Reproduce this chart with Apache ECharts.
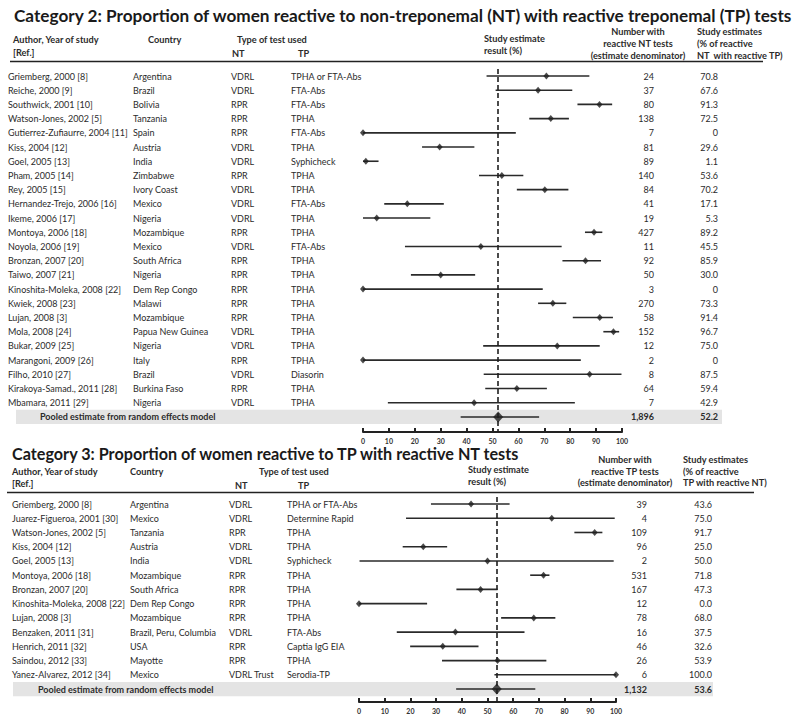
<!DOCTYPE html>
<html><head><meta charset="utf-8">
<script src="https://cdn.jsdelivr.net/npm/echarts@6/dist/echarts.min.js"></script>
<style>html,body{margin:0;padding:0;background:#fff}#c{width:800px;height:720px}</style>
</head><body><div id="c"></div>
<script>
// ---------- Category 2 data ----------
const c2Authors = ['Griemberg, 2000 [8]','Reiche, 2000 [9]','Southwick, 2001 [10]','Watson-Jones, 2002 [5]','Gutierrez-Zufiaurre, 2004 [11]','Kiss, 2004 [12]','Goel, 2005 [13]','Pham, 2005 [14]','Rey, 2005 [15]','Hernandez-Trejo, 2006 [16]','Ikeme, 2006 [17]','Montoya, 2006 [18]','Noyola, 2006 [19]','Bronzan, 2007 [20]','Taiwo, 2007 [21]','Kinoshita-Moleka, 2008 [22]','Kwiek, 2008 [23]','Lujan, 2008 [3]','Mola, 2008 [24]','Bukar, 2009 [25]','Marangoni, 2009 [26]','Filho, 2010 [27]','Kirakoya-Samad., 2011 [28]','Mbamara, 2011 [29]'];
const c2Countries = ['Argentina','Brazil','Bolivia','Tanzania','Spain','Austria','India','Zimbabwe','Ivory Coast','Mexico','Nigeria','Mozambique','Mexico','South Africa','Nigeria','Dem Rep Congo','Malawi','Mozambique','Papua New Guinea','Nigeria','Italy','Brazil','Burkina Faso','Nigeria'];
const c2NT = ['VDRL','VDRL','RPR','RPR','RPR','VDRL','VDRL','RPR','VDRL','VDRL','VDRL','RPR','VDRL','RPR','RPR','RPR','RPR','RPR','VDRL','VDRL','RPR','VDRL','RPR','VDRL'];
const c2TP = ['TPHA or FTA-Abs','FTA-Abs','FTA-Abs','TPHA','FTA-Abs','TPHA','Syphicheck','TPHA','TPHA','FTA-Abs','TPHA','TPHA','FTA-Abs','TPHA','TPHA','TPHA','TPHA','TPHA','TPHA','TPHA','TPHA','Diasorin','TPHA','TPHA'];
const c2N = [24,37,80,138,7,81,89,140,84,41,19,427,11,92,50,3,270,58,152,12,2,8,64,7];
const c2Est = [70.8,67.6,91.3,72.5,0,29.6,1.1,53.6,70.2,17.1,5.3,89.2,45.5,85.9,30.0,0,73.3,91.4,96.7,75.0,0,87.5,59.4,42.9];
const c2Lo = [47.7,51.2,82.8,64.2,0,22.8,0,44.8,59.4,8.2,0,85.7,16.2,77.0,18.5,0,67.6,81.0,92.8,46.4,0,46.6,47.2,9.6];
const c2Hi = [87.4,80.8,96.2,79.5,59.0,43.0,6.0,61.9,79.3,31.2,26.0,92.4,76.7,91.9,43.3,69.4,78.5,96.5,98.9,91.4,84.1,99.8,71.0,81.8];
const c2PooledN = 1896, c2PooledEst = 52.2, c2PooledLo = 37.7, c2PooledHi = 68.0;

// ---------- Category 3 data ----------
const c3Authors = ['Griemberg, 2000 [8]','Juarez-Figueroa, 2001 [30]','Watson-Jones, 2002 [5]','Kiss, 2004 [12]','Goel, 2005 [13]','Montoya, 2006 [18]','Bronzan, 2007 [20]','Kinoshita-Moleka, 2008 [22]','Lujan, 2008 [3]','Benzaken, 2011 [31]','Henrich, 2011 [32]','Saindou, 2012 [33]','Yanez-Alvarez, 2012 [34]'];
const c3Countries = ['Argentina','Mexico','Tanzania','Austria','India','Mozambique','South Africa','Dem Rep Congo','Mozambique','Brazil, Peru, Columbia','USA','Mayotte','Mexico'];
const c3NT = ['VDRL','VDRL','RPR','VDRL','VDRL','RPR','RPR','RPR','RPR','VDRL','RPR','RPR','VDRL Trust'];
const c3TP = ['TPHA or FTA-Abs','Determine Rapid','TPHA','TPHA','Syphicheck','TPHA','TPHA','TPHA','TPHA','FTA-Abs','Captia IgG EIA','TPHA','Serodia-TP'];
const c3N = [39,4,109,96,2,531,167,12,78,16,46,26,6];
const c3Est = [43.6,75.0,91.7,25.0,50.0,71.8,47.3,0.0,68.0,37.5,32.6,53.9,100.0];
const c3Lo = [28.0,18.3,83.8,17.0,0.2,66.6,37.9,0,55.3,14.7,19.9,32.3,52.7];
const c3Hi = [58.6,99.5,94.7,34.3,99.1,74.1,53.9,26.5,76.4,64.4,46.5,72.9,100];
const c3PooledN = 1132, c3PooledEst = 53.6, c3PooledLo = 37.8, c3PooledHi = 68.6;

const xTicks = [0,10,20,30,40,50,60,70,80,90,100];

// ---------- styling / layout ----------
const FONT = 'Lato';
const TXT = '#2b2b2b';
const ROW_FS = 9;
const HEAD_FS = 9.2;

const panels = [
  {
    authors:c2Authors, countries:c2Countries, nt:c2NT, tp:c2TP, n:c2N, est:c2Est, lo:c2Lo, hi:c2Hi,
    pN:c2PooledN, pEst:c2PooledEst, pLo:c2PooledLo, pHi:c2PooledHi,
    fmt: v => v === 0 ? '0' : v.toFixed(1),
    grid:{left:363, width:259, top:68.9, height:363.1}, ymax:25.06,
    cols:{author:8, country:133, nt:231, tp:291, n:654, est:718, pooledText:40},
    band:{x0:16, x1:722}
  },
  {
    authors:c3Authors, countries:c3Countries, nt:c3NT, tp:c3TP, n:c3N, est:c3Est, lo:c3Lo, hi:c3Hi,
    pN:c3PooledN, pEst:c3PooledEst, pLo:c3PooledLo, pHi:c3PooledHi,
    fmt: v => v.toFixed(1),
    grid:{left:359, width:257, top:496.9, height:205.1}, ymax:13.91,
    cols:{author:12, country:130, nt:229, tp:287, n:647, est:712, pooledText:38},
    band:{x0:13, x1:713}
  }
];

function txt(text, x, y, o) {
  o = o || {};
  return {
    type:'text', x:x, y:y, silent:true,
    style:{
      text:text, fill:o.fill || TXT,
      fontSize:o.fs || HEAD_FS, fontWeight:o.fw || 'normal', fontFamily:FONT,
      align:o.align || 'left', textAlign:o.align || 'left',
      verticalAlign:'middle', textVerticalAlign:'middle'
    }
  };
}

const grids = [], xAxes = [], yAxes = [], series = [];
panels.forEach((p, gi) => {
  grids.push(Object.assign({containLabel:false}, p.grid));
  xAxes.push({
    type:'value', gridIndex:gi, min:0, max:100, interval:10, position:'bottom',
    axisLine:{show:true, onZero:false, lineStyle:{color:'#222', width:2}},
    axisTick:{show:true, inside:true, length:4, lineStyle:{color:'#222', width:2}},
    axisLabel:{fontSize:7, fontWeight:'bold', color:'#333', fontFamily:FONT, margin:5},
    splitLine:{show:false}
  });
  yAxes.push({type:'value', gridIndex:gi, inverse:true, min:-0.5, max:p.ymax, show:false});

  const nRows = p.authors.length;
  const ciData = p.lo.map((lo, i) => [lo, p.hi[i], i]);
  ciData.push([p.pLo, p.pHi, nRows]);

  // pooled grey band
  series.push({
    type:'custom', xAxisIndex:gi, yAxisIndex:gi, z:1, silent:true, clip:false,
    data:[[p.pEst, nRows]],
    encode:{x:0, y:1},
    renderItem:(params, api) => {
      const y = api.coord([0, api.value(1)])[1];
      const h = api.size([0, 1])[1];
      return {type:'rect', shape:{x:p.band.x0, y:y - h/2, width:p.band.x1 - p.band.x0, height:h},
        style:{fill:'#e4e4e4'}};
    }
  });

  // confidence interval lines
  series.push({
    type:'custom', xAxisIndex:gi, yAxisIndex:gi, z:3, silent:true, clip:false,
    data:ciData, encode:{x:[0,1], y:2},
    renderItem:(params, api) => {
      const a = api.coord([api.value(0), api.value(2)]);
      const b = api.coord([api.value(1), api.value(2)]);
      return {type:'line', shape:{x1:a[0], y1:a[1], x2:b[0], y2:b[1]},
        style:{stroke:'#2a2a2a', lineWidth:1.6}};
    }
  });

  // study points + reference dashed line
  series.push({
    type:'scatter', xAxisIndex:gi, yAxisIndex:gi, z:4, silent:true,
    symbol:'diamond', symbolSize:[6,7],
    itemStyle:{color:'#1e1e1e'},
    data:p.est.map((v, i) => [v, i]),
    markLine:{
      silent:true, symbol:'none', label:{show:false}, animation:false,
      lineStyle:{color:'#1e1e1e', width:1.6, type:[5,3]},
      data:[{xAxis:p.pEst}]
    }
  });
  // pooled point
  series.push({
    type:'scatter', xAxisIndex:gi, yAxisIndex:gi, z:5, silent:true,
    symbol:'diamond', symbolSize:[10,11],
    itemStyle:{color:'#1e1e1e'},
    data:[[p.pEst, nRows]]
  });

  // table text columns
  const rowIdx = p.authors.map((a, i) => [0, i]);
  rowIdx.push([0, nRows]);
  series.push({
    type:'custom', xAxisIndex:gi, yAxisIndex:gi, z:6, silent:true, clip:false,
    data:rowIdx, encode:{x:0, y:1},
    renderItem:(params, api) => {
      const i = params.dataIndex;
      const y = api.coord([0, api.value(1)])[1];
      const c = p.cols;
      const mk = (t, x, align, fw) => ({type:'text', style:{text:t, x:x, y:y,
        fill:TXT, fontSize:ROW_FS, fontWeight:fw || 'normal', fontFamily:FONT,
        align:align, textAlign:align, verticalAlign:'middle', textVerticalAlign:'middle'}});
      if (i === nRows) {
        return {type:'group', children:[
          mk('Pooled estimate from random effects model', c.pooledText, 'left', 'bold'),
          mk(p.pN.toLocaleString('en-US'), c.n, 'right', 'bold'),
          mk(p.pEst.toFixed(1), c.est, 'right', 'bold')
        ]};
      }
      return {type:'group', children:[
        mk(p.authors[i], c.author, 'left'),
        mk(p.countries[i], c.country, 'left'),
        mk(p.nt[i], c.nt, 'left'),
        mk(p.tp[i], c.tp, 'left'),
        mk(String(p.n[i]), c.n, 'right'),
        mk(p.fmt(p.est[i]), c.est, 'right')
      ]};
    }
  });
});

const B = {fw:'bold'};
const graphic = [
  // Category 2 headers
  txt('Category 2: Proportion of women reactive to non-treponemal (NT) with reactive treponemal (TP) tests', 14, 15, {fs:17.2, fw:'bold', fill:'#1a1a1a'}),
  txt('Author, Year of study', 13, 39, B), txt('[Ref.]', 13, 52, B),
  txt('Country', 148, 39, B),
  txt('Type of test used', 237, 39, B),
  txt('NT', 232, 53, B), txt('TP', 298, 53, B),
  txt('Study estimate', 484, 38, B), txt('result (%)', 484, 50, B),
  txt('Number with', 638, 31, {fw:'bold', align:'center'}),
  txt('reactive NT tests', 638, 43, {fw:'bold', align:'center'}),
  txt('(estimate denominator)', 638, 55, {fw:'bold', align:'center'}),
  txt('Study estimates', 697, 31, B), txt('(% of reactive', 697, 43, B), txt('NT  with reactive TP)', 697, 55, B),
  {type:'line', silent:true, shape:{x1:10, y1:61.5, x2:763, y2:61.5}, style:{stroke:'#222', lineWidth:1.6}},
  // Category 3 headers
  txt('Category 3: Proportion of women reactive to TP with reactive NT tests', 12, 453, {fs:16.2, fw:'bold', fill:'#1a1a1a'}),
  txt('Author, Year of study', 12, 471, B), txt('[Ref.]', 12, 483, B),
  txt('Country', 130, 471, B),
  txt('Type of test used', 259, 471, B),
  txt('NT', 235, 485, B), txt('TP', 298, 485, B),
  txt('Study estimate', 468, 469, B), txt('result (%)', 468, 481, B),
  txt('Number with', 625, 459, {fw:'bold', align:'center'}),
  txt('reactive TP tests', 625, 471, {fw:'bold', align:'center'}),
  txt('(estimate denominator)', 625, 482, {fw:'bold', align:'center'}),
  txt('Study estimates', 683, 459, B), txt('(% of reactive', 683, 471, B), txt('TP with reactive NT)', 683, 482, B),
  {type:'line', silent:true, shape:{x1:7, y1:492.5, x2:754, y2:492.5}, style:{stroke:'#222', lineWidth:1.6}}
];

const chart = echarts.init(document.getElementById('c'), null, {renderer:'svg'});
chart.setOption({
  animation:false,
  backgroundColor:'#fff',
  grid:grids, xAxis:xAxes, yAxis:yAxes, series:series,
  graphic:graphic
});
</script></body></html>
